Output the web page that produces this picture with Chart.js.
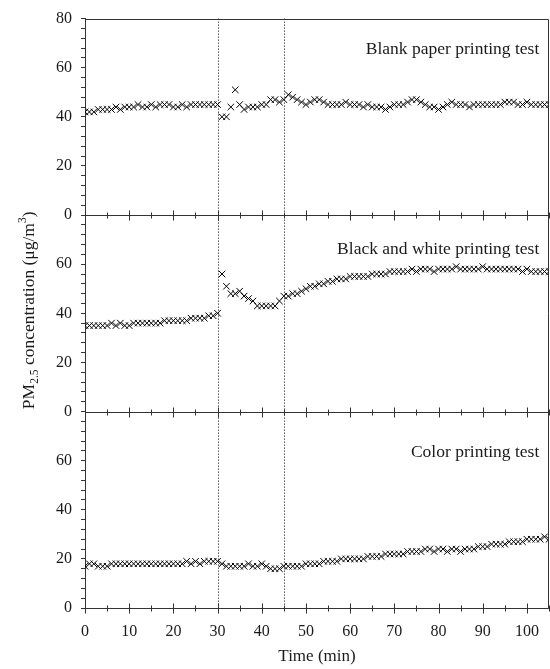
<!DOCTYPE html>
<html>
<head>
<meta charset="utf-8">
<title>PM2.5 concentration during printing tests</title>
<script src="https://cdn.jsdelivr.net/npm/chart.js@4"></script>
<style>
  html, body { margin: 0; padding: 0; background: #fff; }
  #wrap { width: 550px; height: 669px; }
</style>
</head>
<body>
<div id="wrap"><canvas id="pmChart" width="550" height="669"></canvas></div>
<script>
// PM2.5 concentration (ug/m3) measured once a minute during three printing tests

// --- Data ---
const minutes = [
  0, 1, 2, 3, 4, 5, 6, 7, 8, 9, 10, 11, 12, 13, 14, 15, 16, 17, 18, 19, 20,
  21, 22, 23, 24, 25, 26, 27, 28, 29, 30, 31, 32, 33, 34, 35, 36, 37, 38, 39, 40,
  41, 42, 43, 44, 45, 46, 47, 48, 49, 50, 51, 52, 53, 54, 55, 56, 57, 58, 59, 60,
  61, 62, 63, 64, 65, 66, 67, 68, 69, 70, 71, 72, 73, 74, 75, 76, 77, 78, 79, 80,
  81, 82, 83, 84, 85, 86, 87, 88, 89, 90, 91, 92, 93, 94, 95, 96, 97, 98, 99, 100,
  101, 102, 103, 104, 105
];

const blankPaper = [
  42, 42, 42, 43, 43, 43, 43, 44, 43, 44, 44,
  44, 45, 44, 44, 45, 44, 45, 45, 45, 44,
  44, 45, 44, 45, 45, 45, 45, 45, 45, 45,
  40, 40, 44, 51, 45, 43, 44, 44, 44, 45,
  45, 47, 47, 46, 47, 49, 48, 47, 46, 45,
  46, 47, 47, 46, 45, 45, 45, 45, 46, 45,
  45, 45, 44, 45, 44, 44, 44, 43, 44, 45,
  45, 45, 46, 47, 47, 46, 45, 44, 44, 43,
  44, 45, 46, 45, 45, 45, 44, 45, 45, 45,
  45, 45, 45, 45, 46, 46, 46, 45, 45, 46,
  45, 45, 45, 45, 45
];

const blackWhite = [
  35, 35, 35, 35, 35, 35, 36, 35, 36, 35, 35,
  36, 36, 36, 36, 36, 36, 36, 37, 37, 37,
  37, 37, 37, 38, 38, 38, 38, 39, 39, 40,
  56, 51, 48, 48, 49, 47, 46, 45, 43, 43,
  43, 43, 43, 45, 47, 47, 48, 48, 49, 50,
  51, 51, 52, 52, 53, 53, 54, 54, 54, 55,
  55, 55, 55, 55, 56, 56, 56, 56, 57, 57,
  57, 57, 57, 58, 57, 58, 58, 58, 57, 58,
  58, 58, 58, 59, 58, 58, 58, 58, 58, 59,
  58, 58, 58, 58, 58, 58, 58, 58, 57, 58,
  57, 57, 57, 57, 57
];

const colorPrint = [
  17, 18, 18, 17, 17, 17, 18, 18, 18, 18, 18,
  18, 18, 18, 18, 18, 18, 18, 18, 18, 18,
  18, 18, 19, 18, 19, 18, 19, 19, 19, 19,
  18, 17, 17, 17, 17, 17, 18, 17, 17, 18,
  17, 16, 16, 16, 17, 17, 17, 17, 17, 18,
  18, 18, 18, 19, 19, 19, 19, 20, 20, 20,
  20, 20, 20, 21, 21, 21, 21, 22, 22, 22,
  22, 22, 23, 23, 23, 23, 24, 24, 23, 24,
  24, 23, 24, 24, 23, 24, 24, 24, 25, 25,
  25, 26, 26, 26, 26, 27, 27, 27, 27, 28,
  28, 28, 28, 29, 28
];

const panelNames = ['Blank paper printing test', 'Black and white printing test', 'Color printing test'];
const eventMinutes = [30, 45];   // printing start / stop
const xTickValues = [0, 5, 10, 15, 20, 25, 30, 35, 40, 45, 50, 55, 60, 65, 70, 75, 80, 85, 90, 95, 100, 105];
const yTickValues = [0, 4, 8, 12, 16, 20, 24, 28, 32, 36, 40, 44, 48, 52, 56, 60, 64, 68, 72, 76, 80];

// --- Styling ---
const SERIF = "'Liberation Serif', 'Times New Roman', serif";
const AXIS_COLOR = '#333';
const TEXT_COLOR = '#1a1a1a';
const panelIds = ['yTop', 'yMid', 'yBot'];
const series = [blankPaper, blackWhite, colorPrint];
// where the panel captions sit (right edge in minutes, baseline in panel units)
const captionAtMin = 102.8;
const captionAtVal = [65.5, 64, 61.5];

Chart.defaults.font.family = SERIF;

// y scale for one panel; only the top panel shows its "80"
function panelScale(showTop) {
  return {
    type: 'linear',
    position: 'left',
    stack: 'panels',
    stackWeight: 1,
    min: 0,
    max: 80,
    border: { color: AXIS_COLOR },
    grid: { drawOnChartArea: false, drawTicks: true, tickLength: 4, color: AXIS_COLOR },
    afterBuildTicks: s => { s.ticks = yTickValues.map(v => ({ value: v })); },
    afterFit: s => { s.width = 85; },
    ticks: {
      autoSkip: false,
      padding: 9,
      color: TEXT_COLOR,
      font: { size: 16 },
      callback: v => (v % 20 === 0 && (v < 80 || showTop)) ? String(v) : ''
    }
  };
}

// --- Extra drawing: event lines, panel frames, x ticks, captions, y title ---
const panelDecor = {
  id: 'panelDecor',
  beforeDatasetsDraw(chart) {
    const { ctx, chartArea, scales } = chart;
    ctx.save();
    ctx.strokeStyle = '#000';
    ctx.lineWidth = 1;
    ctx.setLineDash([1, 2]);
    eventMinutes.forEach(m => {
      const px = Math.round(scales.x.getPixelForValue(m)) + 0.5;
      ctx.beginPath();
      ctx.moveTo(px, chartArea.top);
      ctx.lineTo(px, chartArea.bottom);
      ctx.stroke();
    });
    ctx.restore();
  },
  afterDraw(chart) {
    const { ctx, chartArea, scales } = chart;
    const xs = scales.x;
    ctx.save();
    ctx.strokeStyle = AXIS_COLOR;
    ctx.lineWidth = 1;

    // top and right frame
    const top = Math.round(chartArea.top) + 0.5;
    const right = Math.round(chartArea.right) - 0.5;
    ctx.beginPath();
    ctx.moveTo(chartArea.left, top);
    ctx.lineTo(right, top);
    ctx.lineTo(right, chartArea.bottom);
    ctx.stroke();

    // baseline of every panel with crossing ticks
    panelIds.forEach(id => {
      const y = Math.round(scales[id].getPixelForValue(0)) + 0.5;
      ctx.beginPath();
      ctx.moveTo(chartArea.left, y);
      ctx.lineTo(chartArea.right, y);
      xs.ticks.forEach(t => {
        const px = Math.round(xs.getPixelForValue(t.value)) + 0.5;
        const len = t.value % 10 === 0 ? 5 : 3;
        ctx.moveTo(px, y - len);
        ctx.lineTo(px, y + len);
      });
      ctx.stroke();
    });

    // captions
    ctx.fillStyle = TEXT_COLOR;
    ctx.font = '17.5px ' + SERIF;
    ctx.textAlign = 'right';
    ctx.textBaseline = 'alphabetic';
    panelIds.forEach((id, i) => {
      ctx.fillText(panelNames[i], xs.getPixelForValue(captionAtMin), scales[id].getPixelForValue(captionAtVal[i]));
    });

    // y title with subscript and superscript
    const parts = [
      { t: 'PM', size: 17.5, dy: 0 },
      { t: '2.5', size: 11.5, dy: 4 },
      { t: ' concentration (\u03bcg/m', size: 17.5, dy: 0 },
      { t: '3', size: 11.5, dy: -8 },
      { t: ')', size: 17.5, dy: 0 }
    ];
    let total = 0;
    parts.forEach(p => {
      ctx.font = p.size + 'px ' + SERIF;
      p.w = ctx.measureText(p.t).width;
      total += p.w;
    });
    ctx.translate(34, (chartArea.top + chartArea.bottom) / 2 - 3);
    ctx.rotate(-Math.PI / 2);
    ctx.textAlign = 'left';
    let cx = -total / 2;
    parts.forEach(p => {
      ctx.font = p.size + 'px ' + SERIF;
      ctx.fillText(p.t, cx, p.dy);
      cx += p.w;
    });
    ctx.restore();
  }
};

new Chart(document.getElementById('pmChart'), {
  type: 'scatter',
  data: {
    datasets: series.map((vals, i) => ({
      label: panelNames[i],
      data: minutes.map((m, k) => ({ x: m, y: vals[k] })),
      yAxisID: panelIds[i],
      pointStyle: 'crossRot',
      pointRadius: 4.6,
      pointHoverRadius: 4.6,
      borderWidth: 1,
      borderColor: '#000',
      backgroundColor: '#000',
      showLine: false
    }))
  },
  options: {
    responsive: false,
    devicePixelRatio: 1,
    animation: false,
    events: [],
    layout: { autoPadding: false, padding: { top: 10, right: 1, left: 0, bottom: 0 } },
    plugins: {
      legend: { display: false },
      tooltip: { enabled: false }
    },
    scales: {
      x: {
        type: 'linear',
        position: 'bottom',
        min: 0,
        max: 105,
        border: { display: false },
        grid: { display: false, drawTicks: false },
        afterBuildTicks: s => { s.ticks = xTickValues.map(v => ({ value: v })); },
        afterFit: s => { s.height = 61; s.paddingLeft = 0; s.paddingRight = 0; },
        ticks: {
          autoSkip: false,
          maxRotation: 0,
          padding: 14,
          color: TEXT_COLOR,
          font: { size: 16 },
          callback: v => v % 10 === 0 ? String(v) : ''
        },
        title: {
          display: true,
          text: 'Time (min)',
          color: TEXT_COLOR,
          font: { size: 17 },
          padding: { top: 0, bottom: 2 }
        }
      },
      yBot: panelScale(false),
      yMid: panelScale(false),
      yTop: panelScale(true)
    }
  },
  plugins: [panelDecor]
});
</script>
</body>
</html>
